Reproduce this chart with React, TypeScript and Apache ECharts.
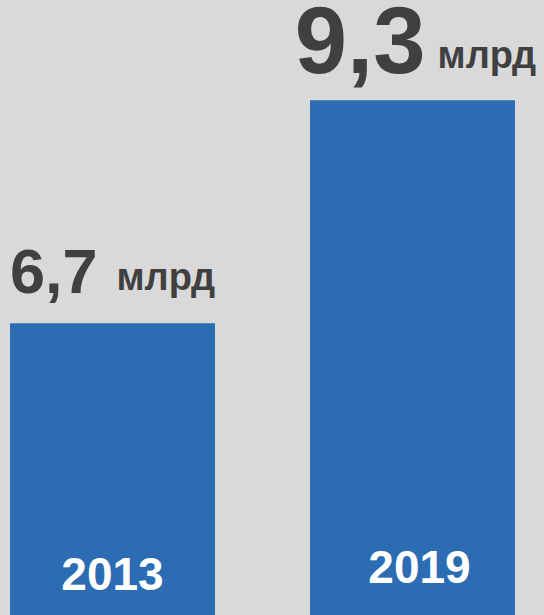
import React, { useEffect, useRef } from "react";
import * as echarts from "echarts";

const years = ["2013", "2019"];
const values = [6.7, 9.3];
const valueLabels = ["6,7", "9,3"];
const unit = "млрд";

const BG = "#d9d9d9";
const BLUE = "#2b6cb3";
const DARK = "#404040";
const FONT = "'Liberation Sans', Arial, sans-serif";

export default function App() {
  const ref = useRef<HTMLDivElement>(null);
  useEffect(() => {
    document.body.style.margin = "0";
    const chart = echarts.init(ref.current!, null, { renderer: "svg" });
    const bigSizes = [63, 94];
    const unitPad = [6, 13];
    const unitGap = [19, 12];
    const topDist = [21, 13];
    const labelOffset = [[0, 0], [3, 0]];
    chart.setOption({
      animation: false,
      backgroundColor: BG,
      grid: { left: 112.5, top: 0, width: 300, height: 615, containLabel: false },
      xAxis: {
        type: "category",
        data: years,
        boundaryGap: false,
        axisLine: { show: false },
        axisTick: { show: false },
        splitLine: { show: false },
        z: 10,
        axisLabel: {
          inside: true,
          margin: 18,
          formatter: (v: string) => (v === years[0] ? `{a|${v}}` : `{b|${v}}`),
          rich: {
            a: {
              fontFamily: FONT,
              fontWeight: "bold",
              fontSize: 46,
              color: "#ffffff",
            },
            b: {
              fontFamily: FONT,
              fontWeight: "bold",
              fontSize: 46,
              color: "#ffffff",
              padding: [0, 0, 7, 14],
            },
          },
        },
      },
      yAxis: {
        type: "value",
        min: 3.3,
        max: 10.47,
        show: false,
      },
      series: [
        {
          type: "bar",
          barWidth: 205,
          clip: false,
          itemStyle: { color: BLUE },
          data: values.map((v, i) => ({
            value: v,
            label: {
              show: true,
              position: "top",
              distance: topDist[i],
              offset: labelOffset[i],
              formatter: `{a|${valueLabels[i]}}{b|${unit}}`,
              rich: {
                a: {
                  fontFamily: FONT,
                  fontWeight: "bold",
                  fontSize: bigSizes[i],
                  lineHeight: Math.round(bigSizes[i] * 0.8),
                  color: DARK,
                  verticalAlign: "bottom",
                },
                b: {
                  fontFamily: FONT,
                  fontWeight: "bold",
                  fontSize: 38,
                  color: DARK,
                  verticalAlign: "bottom",
                  padding: [0, 0, unitPad[i], unitGap[i]],
                },
              },
            },
          })),
        },
      ],
    });
    return () => chart.dispose();
  }, []);
  return <div ref={ref} style={{ width: 544, height: 615 }} />;
}
